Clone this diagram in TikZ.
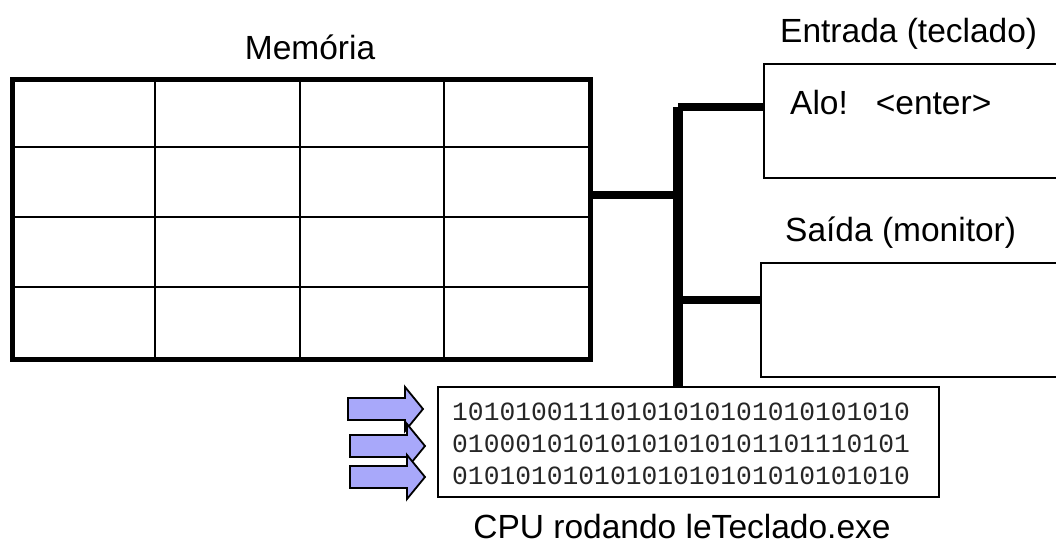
\documentclass[tikz,border=0pt]{standalone}
\usepackage{fontspec}
\setmainfont{Liberation Sans}
\newfontfamily\binfont{Liberation Mono}
\definecolor{arrowfill}{RGB}{168,168,250}
\begin{document}
\begin{tikzpicture}[x=1pt,y=-1pt,
  lbl/.style={font=\fontsize{33.5}{40}\selectfont, inner sep=0},
  bin/.style={font=\binfont\fontsize{26.3}{32}\selectfont, text=black!85, anchor=base west, inner sep=0},
  box/.style={draw, line width=2pt, anchor=north west, inner sep=0},
  gridline/.style={line width=2.2pt},
  bus/.style={line width=9.5pt},
  link/.style={line width=7.5pt},
  blockarrow/.style={draw, line width=1.8pt, fill=arrowfill, line join=miter}]
\useasboundingbox (0,0) rectangle (1056,544);
\clip (0,0) rectangle (1056,544);

% memory
\node[box, line width=4.5pt, minimum width=578pt, minimum height=280pt] (mem) at (10,77) {};
\foreach \x in {155,300,444} \draw[gridline] (\x,77) -- (\x,357);
\foreach \y in {147,217,287} \draw[gridline] (10,\y) -- (588,\y);
\node[lbl, anchor=base] (memlbl) at (310,59) {Memória};

% input / output boxes
\node[box, minimum width=330pt, minimum height=114pt] (inbox) at (763,63) {};
\node[box, minimum width=330pt, minimum height=114pt] (outbox) at (760,262) {};
\node[lbl, anchor=base west] (inlbl) at (780,42) {Entrada (teclado)};
\node[lbl, anchor=base west] (outlbl) at (785,241) {Saída (monitor)};
\node[lbl, anchor=base west] (alo) at (790,114) {Alo!\ \ \ <enter>};

% cpu
\node[box, minimum width=501pt, minimum height=110pt] (cpu) at (437,386) {};
\node[bin] (b1) at (452,420) {10101001110101010101010101010};
\node[bin] (b2) at (452,452) {01000101010101010101101110101};
\node[bin] (b3) at (452,484) {01010101010101010101010101010};
\node[lbl, anchor=base] (cpulbl) at (682,538) {CPU rodando leTeclado.exe};

% bus
\coordinate (bt) at (678,107);
\coordinate (bm) at (678,195);
\coordinate (bl) at (678,300);
\draw[bus] (bt) -- (bt |- cpu.north);
\draw[link] (bt) -- (bt -| inbox.west);
\draw[link] (bl) -- (bl -| outbox.west);
\draw[link] (mem.east |- bm) -- (bm);

% arrows
\foreach \bx/\cy in {348/409, 350/446, 350/477}
  \draw[blockarrow] (\bx,\cy-11) -- (\bx+57,\cy-11) -- (\bx+57,\cy-22) -- (\bx+75,\cy)
     -- (\bx+57,\cy+22) -- (\bx+57,\cy+11) -- (\bx,\cy+11) -- cycle;
\end{tikzpicture}
\end{document}
